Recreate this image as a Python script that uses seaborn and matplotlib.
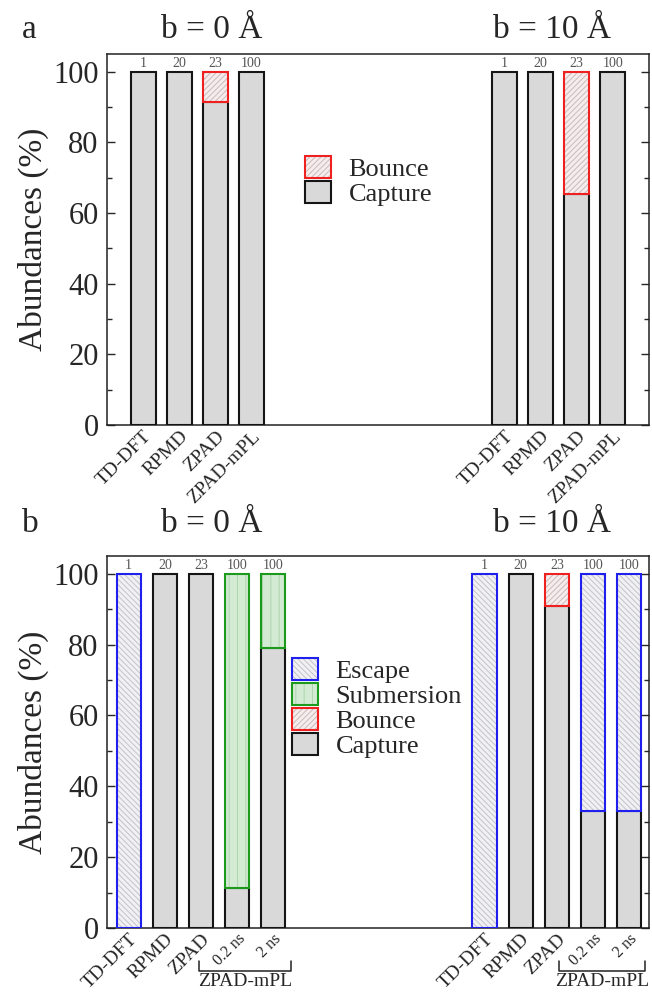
import numpy as np
import pandas as pd
import matplotlib
matplotlib.use("Agg")
import matplotlib.pyplot as plt
import seaborn as sns
from matplotlib.patches import Patch
from matplotlib.legend_handler import HandlerTuple
from matplotlib.transforms import blended_transform_factory

# ---------------- data ----------------
a_labels = ["TD-DFT", "RPMD", "ZPAD", "ZPAD-mPL"]
a_counts = [1, 20, 23, 100]
a_capture_b0 = [100, 100, 91.5, 100]
a_bounce_b0 = [0, 0, 8.5, 0]
a_capture_b10 = [100, 100, 65.5, 100]
a_bounce_b10 = [0, 0, 34.5, 0]

b_labels = ["TD-DFT", "RPMD", "ZPAD", "0.2 ns", "2 ns"]
b_counts = [1, 20, 23, 100, 100]
b_capture_b0 = [0, 100, 100, 11.2, 78.9]
b_bounce_b0 = [0, 0, 0, 0, 0]
b_submersion_b0 = [0, 0, 0, 88.8, 21.1]
b_escape_b0 = [100, 0, 0, 0, 0]
b_capture_b10 = [0, 100, 91.0, 33.1, 33.1]
b_bounce_b10 = [0, 0, 9.0, 0, 0]
b_submersion_b10 = [0, 0, 0, 0, 0]
b_escape_b10 = [100, 0, 0, 66.9, 66.9]

group_titles = ["b = 0 Å", "b = 10 Å"]
group_label = "ZPAD-mPL"

# ---------------- style ----------------
sns.set_style("ticks")
plt.rcParams["font.family"] = ["Liberation Serif", "DejaVu Serif"]
plt.rcParams["hatch.linewidth"] = 0.7

STY = {
    "Capture": dict(face="#d9d9d9", hatch=None, hcol="#d9d9d9", edge="#151515"),
    "Bounce": dict(face="#f5eded", hatch="//////", hcol="#cdb8b8", edge="#ee2020"),
    "Submersion": dict(face="#d3ead3", hatch="||", hcol="#aed6ae", edge="#1c9a1c"),
    "Escape": dict(face="#f1f1f4", hatch="\\\\\\\\\\\\", hcol="#c2c2cc", edge="#2020ee"),
}
BAR_LW = 1.5

fig = plt.figure(figsize=(6.52, 9.98), dpi=100)
W, H = 652, 998


def ax_rect(left, right, top, bottom):
    return [left / W, 1 - bottom / H, (right - left) / W, (bottom - top) / H]


ax_a = fig.add_axes(ax_rect(107, 649, 54, 425))
ax_b = fig.add_axes(ax_rect(107, 649, 556, 928))


def draw_capture(ax, xs, vals, width):
    df = pd.DataFrame({"x": xs, "y": vals})
    df = df[df["y"] > 0]
    sns.barplot(data=df, x="x", y="y", native_scale=True, width=width,
                color=STY["Capture"]["face"], saturation=1,
                edgecolor=STY["Capture"]["edge"], linewidth=BAR_LW,
                errorbar=None, ax=ax, zorder=3)


def draw_segment(ax, xs, vals, bottoms, kind, width):
    s = STY[kind]
    for x, v, b in zip(xs, vals, bottoms):
        if v <= 0:
            continue
        ax.bar(x, v, bottom=b, width=width, color=s["face"], hatch=s["hatch"],
               edgecolor=s["hcol"], linewidth=0, zorder=3)
        ax.bar(x, v, bottom=b, width=width, fill=False,
               edgecolor=s["edge"], linewidth=BAR_LW, zorder=4)


def legend_handle(kind):
    s = STY[kind]
    return (Patch(facecolor=s["face"], hatch=s["hatch"], edgecolor=s["hcol"], linewidth=0),
            Patch(facecolor="none", edgecolor=s["edge"], linewidth=BAR_LW))


def style_axes(ax):
    ax.set_xlim(0, 15)
    ax.set_ylim(0, 105)
    ax.set_yticks([0, 20, 40, 60, 80, 100])
    ax.set_yticks([10, 30, 50, 70, 90], minor=True)
    ax.tick_params(axis="y", which="major", direction="in", length=6, width=1.0,
                   labelsize=22, left=True, right=True, pad=6)
    ax.tick_params(axis="y", which="minor", direction="in", length=3.5, width=1.0,
                   left=True, right=True)
    ax.tick_params(axis="x", length=0, pad=2)
    for sp in ax.spines.values():
        sp.set_visible(True)
        sp.set_linewidth(1.1)
        sp.set_color("#222222")
    ax.set_ylabel("Abundances (%)", fontsize=24, labelpad=3)
    ax.set_xlabel("")


# ---------------- panel a ----------------
pos_a = [[1, 2, 3, 4], [11, 12, 13, 14]]
wa = 0.69
cap_a = [a_capture_b0, a_capture_b10]
bnc_a = [a_bounce_b0, a_bounce_b10]
for g in range(2):
    draw_capture(ax_a, pos_a[g], cap_a[g], wa)
    draw_segment(ax_a, pos_a[g], bnc_a[g], cap_a[g], "Bounce", wa)
    for x, c in zip(pos_a[g], a_counts):
        ax_a.text(x, 100.6, str(c), ha="center", va="bottom", fontsize=10,
                  color="#555555", zorder=5)
style_axes(ax_a)
ax_a.set_xticks(pos_a[0] + pos_a[1])
ax_a.set_xticklabels(a_labels + a_labels, rotation=45, ha="right",
                     rotation_mode="anchor", fontsize=14)
ax_a.legend([legend_handle("Bounce"), legend_handle("Capture")], ["Bounce", "Capture"],
            handler_map={tuple: HandlerTuple(ndivide=1, pad=0)},
            loc="upper left", bbox_to_anchor=(305 / W, 1 - 156 / H),
            bbox_transform=fig.transFigure, frameon=False, fontsize=19,
            handlelength=1.0, handleheight=0.9, handletextpad=0.65,
            labelspacing=0.0, borderpad=0, borderaxespad=0)

# ---------------- panel b ----------------
pos_b = [[0.6, 1.6, 2.6, 3.6, 4.6], [10.45, 11.45, 12.45, 13.45, 14.45]]
wb = 0.67
cap_b = [b_capture_b0, b_capture_b10]
bnc_b = [b_bounce_b0, b_bounce_b10]
sub_b = [b_submersion_b0, b_submersion_b10]
esc_b = [b_escape_b0, b_escape_b10]
for g in range(2):
    draw_capture(ax_b, pos_b[g], cap_b[g], wb)
    bottom = np.array(cap_b[g], dtype=float)
    draw_segment(ax_b, pos_b[g], bnc_b[g], bottom, "Bounce", wb)
    bottom = bottom + np.array(bnc_b[g])
    draw_segment(ax_b, pos_b[g], sub_b[g], bottom, "Submersion", wb)
    bottom = bottom + np.array(sub_b[g])
    draw_segment(ax_b, pos_b[g], esc_b[g], bottom, "Escape", wb)
    for x, c in zip(pos_b[g], b_counts):
        ax_b.text(x, 100.6, str(c), ha="center", va="bottom", fontsize=10,
                  color="#555555", zorder=5)
style_axes(ax_b)
ax_b.set_xticks(pos_b[0] + pos_b[1])
ax_b.set_xticklabels(b_labels + b_labels, rotation=45, ha="right",
                     rotation_mode="anchor", fontsize=14)
for lab in ax_b.get_xticklabels():
    if "ns" in lab.get_text():
        lab.set_fontsize(11.5)

kinds_b = ["Escape", "Submersion", "Bounce", "Capture"]
ax_b.legend([legend_handle(k) for k in kinds_b], kinds_b,
            handler_map={tuple: HandlerTuple(ndivide=1, pad=0)},
            loc="upper left", bbox_to_anchor=(292 / W, 1 - 658 / H),
            bbox_transform=fig.transFigure, frameon=False, fontsize=19,
            handlelength=1.0, handleheight=0.9, handletextpad=0.65,
            labelspacing=0.0, borderpad=0, borderaxespad=0)

# ZPAD-mPL brackets
tr = blended_transform_factory(ax_b.transData, ax_b.transAxes)
for x0, x1 in [(2.55, 5.1), (12.5, 14.9)]:
    ax_b.plot([x0, x0, x1, x1], [-0.088, -0.116, -0.116, -0.088], transform=tr,
              color="#222222", lw=1.1, clip_on=False)
    ax_b.text((x0 + x1) / 2, -0.122, group_label, transform=tr, ha="center",
              va="top", fontsize=14)

# titles and panel letters
for ytop, letter in [(30, "a"), (524, "b")]:
    fig.text(22 / W, 1 - ytop / H, letter, fontsize=24, ha="left", va="center")
    fig.text(212 / W, 1 - ytop / H, group_titles[0], fontsize=24, ha="center", va="center")
    fig.text(552 / W, 1 - ytop / H, group_titles[1], fontsize=24, ha="center", va="center")

fig.savefig("out.png", dpi=100)
